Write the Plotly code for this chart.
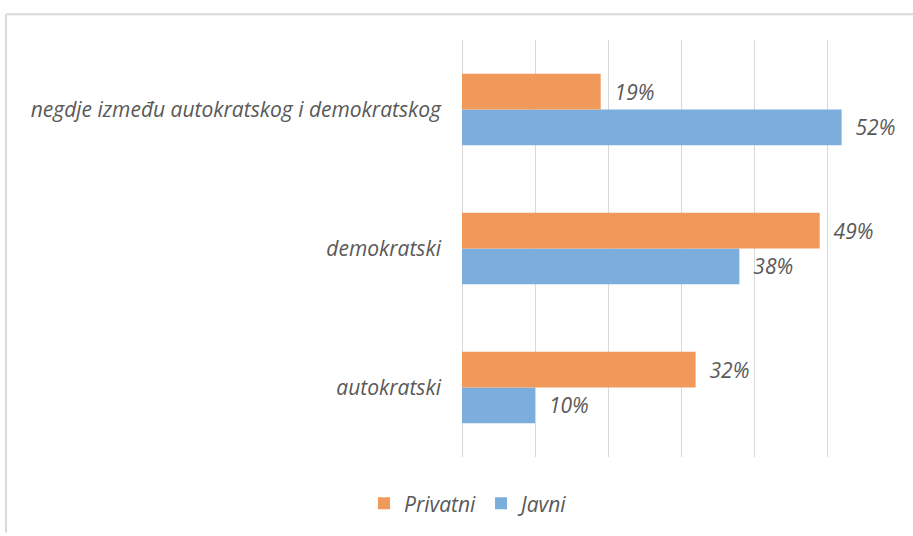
import plotly.graph_objects as go

categories = ["autokratski", "demokratski", "negdje između autokratskog i demokratskog"]
privatni = [32, 49, 19]
javni = [10, 38, 52]
series_names = ["Privatni", "Javni"]
colors = {"Privatni": "#F1995B", "Javni": "#7BAEDC"}

font_family = "'Open Sans', sans-serif"
gray = "#595959"
fs = 21

fig = go.Figure()
for name, vals in [("Javni", javni), ("Privatni", privatni)]:
    fig.add_trace(go.Bar(
        y=categories, x=vals, name=name, orientation="h",
        marker=dict(color=colors[name], line=dict(width=0)),
        text=[f"{v}%" for v in vals],
        texttemplate="  %{text}",
        textposition="outside",
        textfont=dict(family=font_family, size=fs, color=gray, style="italic"),
        cliponaxis=False,
    ))

W, H = 913, 536
L, R, T, B = 462, 13, 40, 76
pw, ph = W - L - R, H - T - B

def px_x(x):
    return (x - L) / pw

def px_y(y):
    return (H - B - y) / ph

fig.update_layout(
    width=W, height=H,
    margin=dict(l=L, r=R, t=T, b=B),
    barmode="group", bargap=0.486, bargroupgap=0,
    plot_bgcolor="white", paper_bgcolor="white",
    font=dict(family=font_family, size=fs, color=gray),
    xaxis=dict(range=[0, 60], dtick=10, showgrid=True, gridcolor="#D9D9D9", gridwidth=1,
               showticklabels=False, zeroline=True, zerolinecolor="#D9D9D9", zerolinewidth=1,
               showline=False, ticks=""),
    yaxis=dict(showgrid=False, showline=False, ticks="", ticklabelstandoff=20,
               tickfont=dict(family=font_family, size=fs, color=gray, style="italic")),
    legend=dict(orientation="h", x=px_x(470), y=px_y(507), xanchor="center", yanchor="middle",
                traceorder="reversed", itemwidth=30,
                font=dict(family=font_family, size=fs, color=gray, style="italic")),
    shapes=[
        dict(type="line", xref="paper", yref="paper", x0=px_x(6), x1=px_x(913), y0=px_y(14), y1=px_y(14),
             line=dict(color="#D9D9D9", width=2)),
        dict(type="line", xref="paper", yref="paper", x0=px_x(6), x1=px_x(6), y0=px_y(14), y1=px_y(536),
             line=dict(color="#D9D9D9", width=2)),
    ],
)

fig.write_html("out.html", config={"displayModeBar": False},
               post_script="document.body.style.margin='0';")
